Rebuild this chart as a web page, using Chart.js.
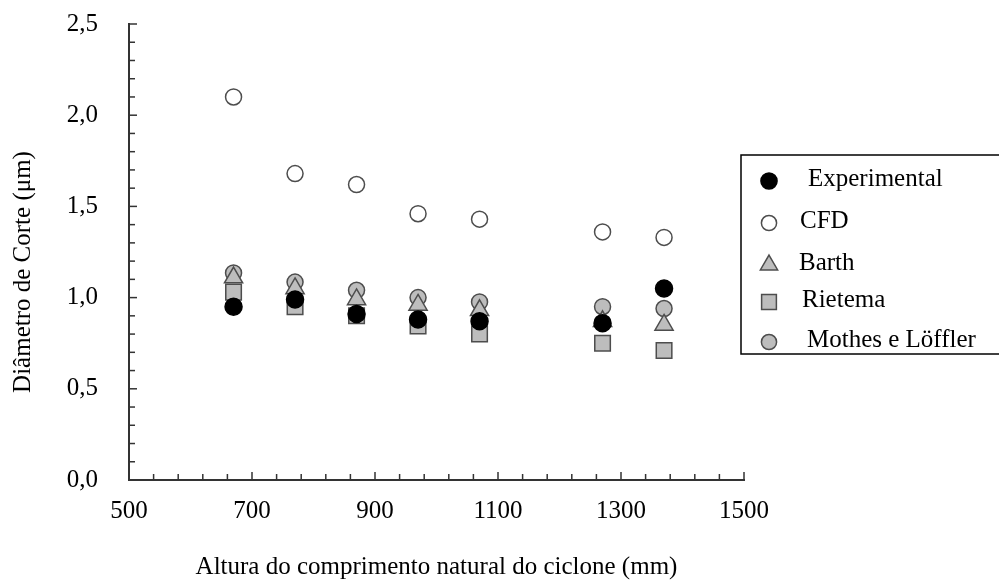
<!DOCTYPE html>
<html>
<head>
<meta charset="utf-8">
<title>Diâmetro de corte</title>
<script src="https://cdn.jsdelivr.net/npm/chart.js@4.4.0/dist/chart.umd.min.js"></script>
<style>
  body { margin: 0; background: #fff; }
  canvas { display: block; }
</style>
</head>
<body>
<canvas id="grafico" width="999" height="582"></canvas>
<script>
// alturas do ciclone (mm)
const alturas = [670, 770, 870, 970, 1070, 1270, 1370];

// diâmetro de corte (µm) por modelo
const experimental = [0.95, 0.99, 0.91, 0.88, 0.87, 0.86, 1.05];
const cfd = [2.10, 1.68, 1.62, 1.46, 1.43, 1.36, 1.33];
const barth = [1.11, 1.05, 0.99, 0.96, 0.93, 0.87, 0.85];
const rietema = [1.03, 0.95, 0.90, 0.845, 0.80, 0.75, 0.71];
const mothes = [1.135, 1.085, 1.04, 1.00, 0.976, 0.95, 0.94];

const nomes = ["Experimental", "CFD", "Barth", "Rietema", "Mothes e Löffler"];
const tituloY = "Diâmetro de Corte (μm)";
const tituloX = "Altura do comprimento natural do ciclone (mm)";

const cinza = "#bdbdbd";
const borda = "#4d4d4d";
const fonte = "'Liberation Serif', 'Times New Roman', serif";

Chart.defaults.font.family = fonte;
Chart.defaults.font.size = 25;
Chart.defaults.color = "#000";

function pontos(valores) {
  return alturas.map((x, i) => ({ x: x, y: valores[i] }));
}

function serie(nome, valores, estilo, raio, fundo, cor) {
  return {
    label: nome,
    data: pontos(valores),
    pointStyle: estilo,
    pointRadius: raio,
    pointHoverRadius: raio,
    backgroundColor: fundo,
    borderColor: cor,
    borderWidth: 1.5,
    showLine: false
  };
}

// tracinhos do eixo voltados para dentro
const marcasInternas = {
  id: "marcasInternas",
  afterDraw(chart) {
    const ctx = chart.ctx;
    const sx = chart.scales.x;
    const sy = chart.scales.y;
    ctx.save();
    ctx.strokeStyle = "#333";
    ctx.lineWidth = 1.5;
    sx.ticks.forEach((t, i) => {
      if (i === 0) return;
      const px = sx.getPixelForTick(i);
      const len = t.label ? 8 : 6;
      ctx.beginPath();
      ctx.moveTo(px, sx.top);
      ctx.lineTo(px, sx.top - len);
      ctx.stroke();
    });
    sy.ticks.forEach((t, i) => {
      if (i === 0) return;
      const py = sy.getPixelForTick(i);
      const len = t.label ? 8 : 6;
      ctx.beginPath();
      ctx.moveTo(sy.right, py);
      ctx.lineTo(sy.right + len, py);
      ctx.stroke();
    });
    ctx.restore();
  }
};

// título do eixo y, um pouco abaixo do centro
const tituloVertical = {
  id: "tituloVertical",
  afterDraw(chart) {
    const ctx = chart.ctx;
    const area = chart.chartArea;
    ctx.save();
    ctx.translate(23, (area.top + area.bottom) / 2 + 20);
    ctx.rotate(-Math.PI / 2);
    ctx.fillStyle = "#000";
    ctx.font = "25px " + fonte;
    ctx.textAlign = "center";
    ctx.textBaseline = "middle";
    ctx.fillText(tituloY, 0, 0);
    ctx.restore();
  }
};

// legenda em caixa à direita (linhas não são igualmente espaçadas)
const legY = [181, 223, 265, 302, 342];
const legTextoX = [808, 800, 799, 802, 807];

const legenda = {
  id: "legenda",
  afterDraw(chart) {
    const ctx = chart.ctx;
    ctx.save();
    ctx.strokeStyle = "#000";
    ctx.lineWidth = 1.5;
    ctx.strokeRect(741, 155, 280, 199);
    chart.data.datasets.forEach((ds, i) => {
      const cy = legY[i];
      ctx.fillStyle = ds.backgroundColor;
      ctx.strokeStyle = ds.borderColor;
      ctx.lineWidth = ds.borderWidth;
      Chart.helpers.drawPoint(ctx, {
        pointStyle: ds.pointStyle,
        radius: ds.pointRadius * 0.95,
        rotation: 0,
        borderWidth: ds.borderWidth
      }, 769, cy);
      ctx.fillStyle = "#000";
      ctx.font = "25px " + fonte;
      ctx.textBaseline = "middle";
      ctx.fillText(ds.label, legTextoX[i], cy - 2);
    });
    ctx.restore();
  }
};

new Chart(document.getElementById("grafico"), {
  type: "scatter",
  data: {
    datasets: [
      serie(nomes[0], experimental, "circle", 8.5, "#000", "#000"),
      serie(nomes[1], cfd, "circle", 8, "#fff", borda),
      serie(nomes[2], barth, "triangle", 10.5, cinza, borda),
      serie(nomes[3], rietema, "rect", 11, cinza, borda),
      serie(nomes[4], mothes, "circle", 8, cinza, borda)
    ]
  },
  options: {
    responsive: false,
    animation: false,
    layout: { padding: { top: 24, right: 255, left: 0, bottom: 0 } },
    plugins: {
      legend: { display: false },
      tooltip: { enabled: false }
    },
    scales: {
      x: {
        type: "linear",
        min: 500,
        max: 1500,
        afterFit(scale) { scale.height = 102; },
        grid: { drawOnChartArea: false, drawTicks: false },
        border: { color: "#333", width: 2 },
        ticks: {
          stepSize: 40,
          autoSkip: false,
          maxRotation: 0,
          minRotation: 0,
          padding: 16,
          callback: v => (Math.round(v - 500) % 200 === 0 ? String(v) : "")
        },
        title: {
          display: true,
          text: tituloX,
          padding: { top: 0, bottom: 0 }
        }
      },
      y: {
        min: 0,
        max: 2.5,
        afterFit(scale) {
          // largura fixa e sem folga extra em cima/embaixo
          scale.width = 129;
          scale.paddingTop = 0;
          scale.paddingBottom = 0;
        },
        grid: { drawOnChartArea: false, drawTicks: false },
        border: { color: "#333", width: 2 },
        ticks: {
          stepSize: 0.1,
          autoSkip: false,
          padding: 31,
          callback: v => (Math.round(v * 10) % 5 === 0 ? v.toFixed(1).replace(".", ",") : "")
        },
        title: { display: false, text: tituloY }
      }
    }
  },
  plugins: [marcasInternas, tituloVertical, legenda]
});
</script>
</body>
</html>
